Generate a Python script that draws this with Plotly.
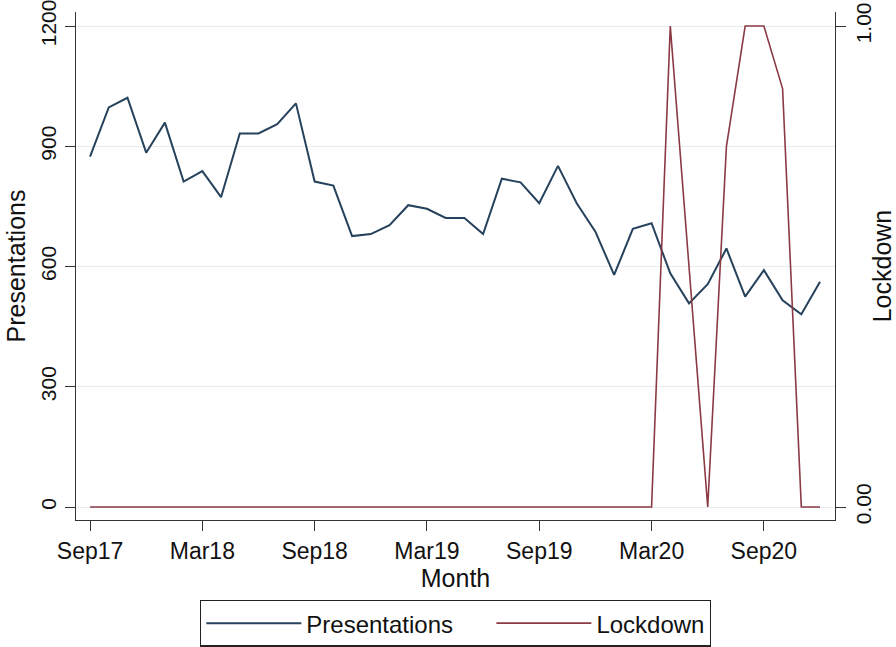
import plotly.graph_objects as go

months = ["Sep17", "Oct17", "Nov17", "Dec17",
          "Jan18", "Feb18", "Mar18", "Apr18", "May18", "Jun18",
          "Jul18", "Aug18", "Sep18", "Oct18", "Nov18", "Dec18",
          "Jan19", "Feb19", "Mar19", "Apr19", "May19", "Jun19",
          "Jul19", "Aug19", "Sep19", "Oct19", "Nov19", "Dec19",
          "Jan20", "Feb20", "Mar20", "Apr20", "May20", "Jun20",
          "Jul20", "Aug20", "Sep20", "Oct20", "Nov20", "Dec20"]

presentations = [874, 997, 1021, 884,
                 959, 812, 838, 773, 932, 932,
                 955, 1007, 812, 802, 676, 681,
                 703, 753, 744, 721, 721, 681,
                 819, 810, 758, 851, 758, 687,
                 579, 694, 708, 583, 508, 556,
                 645, 525, 591, 516, 481, 562]

lockdown = [0, 0, 0, 0,
            0, 0, 0, 0, 0, 0,
            0, 0, 0, 0, 0, 0,
            0, 0, 0, 0, 0, 0,
            0, 0, 0, 0, 0, 0,
            0, 0, 0, 1.0, 0.5, 0,
            0.75, 1.0, 1.0, 0.87, 0, 0]

x_ticks = ["Sep17", "Mar18", "Sep18", "Mar19", "Sep19", "Mar20", "Sep20"]
y_ticks = [0, 300, 600, 900, 1200]
y2_ticks = [0, 1]
y2_ticktext = ["0.00", "1.00"]

FONT = "Liberation Sans, Arial, sans-serif"
AX = "#333333"
PAD = "\u00a0" * 5

fig = go.Figure()
fig.add_trace(go.Scatter(x=months, y=presentations, name="Presentations" + PAD,
                         mode="lines", line=dict(color="#26425c", width=2)))
fig.add_trace(go.Scatter(x=months, y=lockdown, name="Lockdown", yaxis="y2",
                         mode="lines", line=dict(color="#8b3a44", width=1.6)))

fig.update_layout(
    width=896, height=647,
    paper_bgcolor="white", plot_bgcolor="white",
    margin=dict(l=76, r=61, t=12, b=127, autoexpand=False),
    font=dict(family=FONT, size=22, color="#111111"),
    xaxis=dict(type="category", categoryorder="array", categoryarray=months,
               range=[-0.75, 39.8], tickmode="array", tickvals=x_ticks,
               ticktext=x_ticks, ticks="outside", ticklen=10, tickwidth=1.3,
               tickcolor=AX, showline=True, linecolor=AX, linewidth=1.3,
               showgrid=False, zeroline=False, automargin=False,
               tickfont=dict(size=23),
               title=dict(text="Month", font=dict(size=25), standoff=2)),
    yaxis=dict(range=[-32.4, 1235], tickmode="array", tickvals=y_ticks,
               ticks="outside", ticklen=10, tickwidth=1.3, tickcolor=AX,
               showline=True, linecolor=AX, linewidth=1.3, automargin=False,
               showgrid=True, gridcolor="#e8ecef", gridwidth=1.2,
               zeroline=False, tickangle=-90, tickfont=dict(size=21),
               ticklabeloverflow="allow",
               title=dict(text="Presentations", font=dict(size=25), standoff=4)),
    yaxis2=dict(overlaying="y", side="right", range=[-0.027, 1.0292],
                tickmode="array", tickvals=y2_ticks, ticktext=y2_ticktext,
                ticks="outside", ticklen=10, tickwidth=1.3, tickcolor=AX,
                showline=True, linecolor=AX, linewidth=1.3, showgrid=False,
                zeroline=False, tickangle=-90, tickfont=dict(size=21),
                automargin=False, ticklabeloverflow="allow",
                title=dict(text="Lockdown", font=dict(size=25), standoff=3)),
    legend=dict(orientation="h", x=0.5, xanchor="center", y=-0.157,
                yanchor="top", bordercolor="#222222", borderwidth=1.3,
                bgcolor="white", font=dict(size=24), itemwidth=95),
    showlegend=True,
)

fig.write_html("out.html", config={"displayModeBar": False},
               post_script="document.body.style.margin='0';")
